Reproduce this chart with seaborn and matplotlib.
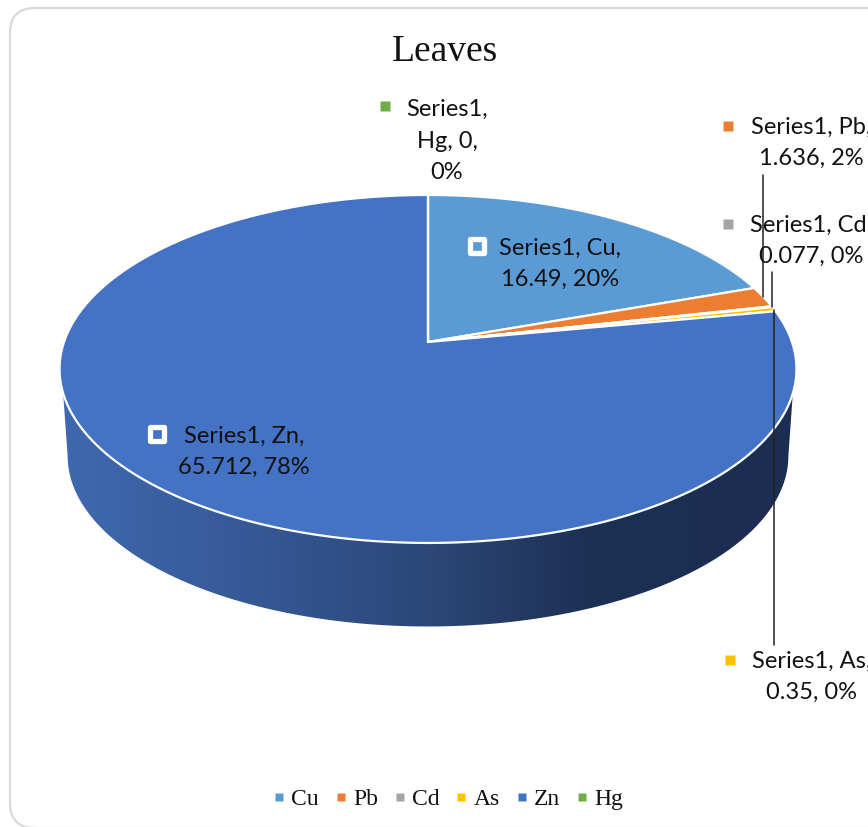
import numpy as np
import matplotlib
matplotlib.use("Agg")
import matplotlib.pyplot as plt
import seaborn as sns
from matplotlib.colors import LinearSegmentedColormap
from matplotlib.lines import Line2D
from matplotlib.markers import MarkerStyle
from matplotlib.patches import FancyBboxPatch, Polygon

# Data
metals = ["Cu", "Pb", "Cd", "As", "Zn", "Hg"]
values = [16.49, 1.636, 0.077, 0.35, 65.712, 0]
colors = ["#5B9BD5", "#ED7D31", "#A5A5A5", "#FFC000", "#4472C4", "#70AD47"]
series_name = "Series1"
chart_title = "Leaves"

# Perspective of the pie top, in pixels
cx, cy = 428.0, 342.0
a, b, k = 364.0, 169.8, 0.155


def project(pts):
    pts = np.asarray(pts)
    w = 1 + k * pts[:, 1]
    return np.column_stack([cx + a * pts[:, 0] / w, cy - b * pts[:, 1] / w])


sns.set_theme(style="white")
plt.rcParams["font.family"] = ["Lato", "DejaVu Sans"]

fig = plt.figure(figsize=(8.68, 8.27), dpi=100)
ax = fig.add_axes([0, 0, 1, 1])

# The pie gives the wedge angles, then each wedge is tilted
wedges, _ = ax.pie(values, colors=colors, startangle=90, counterclock=False)
tilted = []
for w, c in zip(wedges, colors):
    ang = np.radians(np.linspace(w.theta1, w.theta2, 300))
    arc = np.column_stack([np.cos(ang), np.sin(ang)])
    tilted.append((project(np.vstack([[0, 0], arc])), c))
    w.remove()

ax.set_aspect("auto")
ax.set_xlim(0, 868)
ax.set_ylim(827, 0)
ax.axis("off")

# Chart frame
frame = FancyBboxPatch((10, 8), 900, 820, boxstyle="round,pad=0,rounding_size=25",
                       mutation_scale=1, fc="white", ec="#D9D9D9", lw=1.6, zorder=0)
ax.add_patch(frame)

# Side wall of the pie
t = np.radians(np.linspace(0, 360, 1441))
rim = project(np.column_stack([np.cos(t), np.sin(t)]))
front = rim[(rim[:, 1] >= 393)]
front = front[np.argsort(front[:, 0])]
lower = rim.copy()
lower[:, 0] = cx + 0.978 * (rim[:, 0] - cx)
lower[:, 1] = 369 + 0.98 * (rim[:, 1] - 369) + 87
low_front = lower[lower[:, 1] >= 456]
low_front = low_front[np.argsort(low_front[:, 0])]
wall = Polygon(np.vstack([front, low_front[::-1]]), closed=True, fc="none", ec="none")
ax.add_patch(wall)
wall_cmap = LinearSegmentedColormap.from_list(
    "wall", [(0, "#3F69B0"), (0.2, "#385C9C"), (0.5, "#2C4778"), (0.72, "#1C3054"), (1, "#1B2E52")])
grad = ax.imshow(np.linspace(0, 1, 256)[None, :], cmap=wall_cmap, aspect="auto",
                 extent=(60, 797, 627, 393), zorder=1)
grad.set_clip_path(wall)
ax.set_xlim(0, 868)
ax.set_ylim(827, 0)

# Pie top
for pts, c in tilted:
    ax.add_patch(Polygon(pts, closed=True, fc=c, ec="white", lw=1.6, zorder=2))

# Leader lines
ax.plot([763, 763], [175, 297], color="#222222", lw=1.1, zorder=3)
ax.plot([772, 772], [272, 307], color="#222222", lw=1.1, zorder=3)
ax.plot([774, 774], [310, 645], color="#222222", lw=1.1, zorder=3)

# Data labels
total = sum(values)
label_pos = [(560, 264), (811, 143), (811, 241), (812, 677), (244, 452), (447, 141)]
key_pos = [(477, 246), (728, 126), (728, 224), (730, 660), (157, 434), (385, 106)]
round_square = MarkerStyle("s", joinstyle="round")
for m, v, c, (lx, ly), (kx, ky) in zip(metals, values, colors, label_pos, key_pos):
    pct = round(100 * v / total)
    if m == "Hg":
        txt = f"{series_name},\n{m}, {v},\n{pct}%"
    else:
        txt = f"{series_name}, {m},\n{v}, {pct}%"
    ax.text(lx, ly, txt, ha="center", va="center", fontsize=17, color="#111111",
            linespacing=1.62, zorder=5)
    if m in ("Cu", "Zn"):
        ax.plot(kx, ky, marker=round_square, ms=10.5, mfc=c, mec="white", mew=3.8, ls="none", zorder=5)
    else:
        ax.plot(kx, ky, "s", ms=6.5, mfc=c, mec="none", zorder=5)

ax.text(445, 52, chart_title, ha="center", va="center", fontsize=27,
        family="Liberation Serif", color="#111111")

# Legend
handles = [Line2D([], [], ls="none", marker="s", ms=5.2, mfc=c, mec="none") for c in colors]
ax.legend(handles, metals, loc="center", bbox_to_anchor=(445 / 868, 1 - 799 / 827), ncol=6,
          frameon=False, handletextpad=0.02, columnspacing=0.42, handlelength=1.0, labelcolor="#111111",
          prop={"family": "Liberation Serif", "size": 17})

fig.savefig("out.png", dpi=100)
